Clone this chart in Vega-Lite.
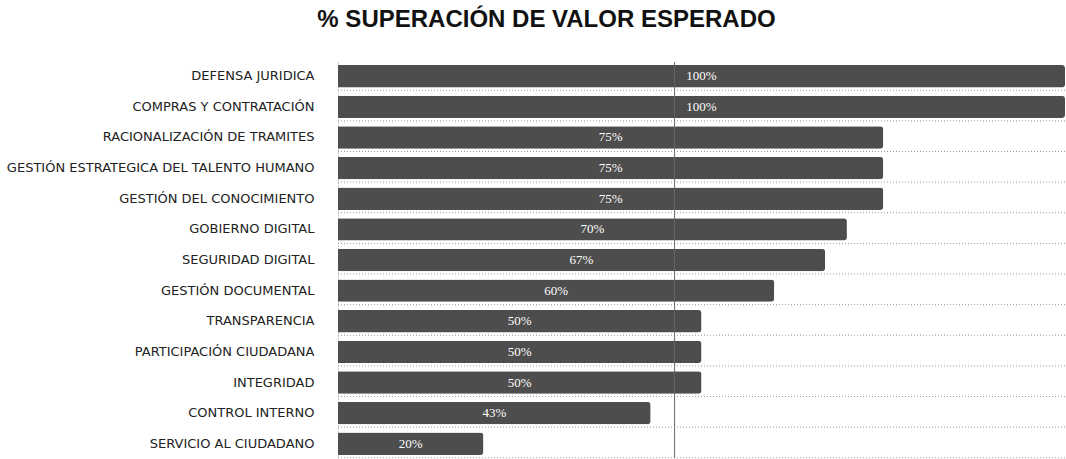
{
  "$schema": "https://vega.github.io/schema/vega-lite/v6.json",
  "width": 1066,
  "height": 459,
  "autosize": {"type": "fit", "contains": "padding"},
  "padding": {"left": 6, "top": 7, "right": 0, "bottom": 0},
  "background": "white",
  "config": {"view": {"stroke": null}},
  "title": {
    "text": "% SUPERACIÓN DE VALOR ESPERADO",
    "font": "Liberation Sans",
    "fontSize": 24,
    "fontWeight": "bold",
    "color": "#111111",
    "anchor": "middle",
    "dx": -155,
    "dy": 2,
    "offset": 32
  },
  "data": {
    "values": [
      {"area": "DEFENSA JURIDICA", "valor": 100, "label": "100%"},
      {"area": "COMPRAS Y CONTRATACIÓN", "valor": 100, "label": "100%"},
      {"area": "RACIONALIZACIÓN DE TRAMITES", "valor": 75, "label": "75%"},
      {"area": "GESTIÓN ESTRATEGICA DEL TALENTO HUMANO", "valor": 75, "label": "75%"},
      {"area": "GESTIÓN DEL CONOCIMIENTO", "valor": 75, "label": "75%"},
      {"area": "GOBIERNO DIGITAL", "valor": 70, "label": "70%"},
      {"area": "SEGURIDAD DIGITAL", "valor": 67, "label": "67%"},
      {"area": "GESTIÓN DOCUMENTAL", "valor": 60, "label": "60%"},
      {"area": "TRANSPARENCIA", "valor": 50, "label": "50%"},
      {"area": "PARTICIPACIÓN CIUDADANA", "valor": 50, "label": "50%"},
      {"area": "INTEGRIDAD", "valor": 50, "label": "50%"},
      {"area": "CONTROL INTERNO", "valor": 43, "label": "43%"},
      {"area": "SERVICIO AL CIUDADANO", "valor": 20, "label": "20%"}
    ]
  },
  "layer": [
    {
      "mark": {"type": "rule", "color": "#9a9a9a", "strokeDash": [1, 2], "strokeWidth": 1, "yOffset": 14},
      "encoding": {
        "y": {"field": "area", "type": "nominal", "sort": null}
      }
    },
    {
      "mark": {"type": "bar", "color": "#4d4d4d", "cornerRadiusEnd": 3},
      "encoding": {
        "y": {
          "field": "area",
          "type": "nominal",
          "sort": null,
          "scale": {"paddingInner": 0.27, "paddingOuter": 0.1},
          "axis": {
            "title": null,
            "labelFont": "DejaVu Sans",
            "labelFontSize": 13,
            "labelColor": "#222222",
            "labelPadding": 24,
            "ticks": false,
            "domain": true,
            "domainColor": "#999999",
            "domainDash": [1, 2],
            "grid": false,
            "labelLimit": 400
          }
        },
        "x": {
          "field": "valor",
          "type": "quantitative",
          "scale": {"domain": [0, 100], "nice": false},
          "axis": null
        }
      }
    },
    {
      "transform": [{"calculate": "datum.valor / 2", "as": "mitad"}],
      "mark": {"type": "text", "color": "white", "font": "Liberation Serif", "fontSize": 13, "align": "center", "baseline": "middle"},
      "encoding": {
        "y": {"field": "area", "type": "nominal", "sort": null},
        "x": {"field": "mitad", "type": "quantitative"},
        "text": {"field": "label"}
      }
    },
    {
      "data": {"values": [{"v": 46.3}]},
      "mark": {"type": "rule", "color": "#666666", "strokeWidth": 1},
      "encoding": {"x": {"field": "v", "type": "quantitative"}}
    }
  ]
}
